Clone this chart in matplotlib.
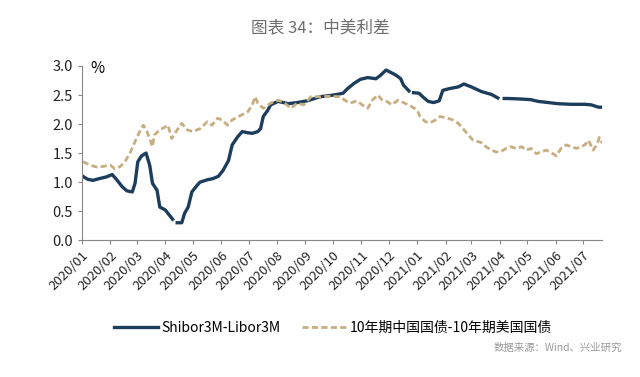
import numpy as np
import pandas as pd
import matplotlib
matplotlib.use("Agg")
import matplotlib.pyplot as plt

plt.rcParams['font.family'] = ['Noto Sans CJK SC', 'DejaVu Sans']

# Shibor3M - Libor3M (%), NaN marks gaps in the series
shibor_dates = ['2020-01-02', '2020-01-07', '2020-01-13', '2020-01-20', '2020-01-28',
                '2020-02-03', '2020-02-07', '2020-02-14', '2020-02-19', '2020-02-25',
                '2020-02-28', '2020-03-02', '2020-03-06', '2020-03-11', '2020-03-15',
                '2020-03-18', '2020-03-23', '2020-03-26', '2020-04-01', '2020-04-04',
                '2020-04-09', '2020-04-11', '2020-04-14', '2020-04-19', '2020-04-22',
                '2020-04-26', '2020-04-30', '2020-05-06', '2020-05-09', '2020-05-17',
                '2020-05-23', '2020-05-29', '2020-06-03', '2020-06-09', '2020-06-13',
                '2020-06-19', '2020-06-24', '2020-06-30', '2020-07-05', '2020-07-11',
                '2020-07-14', '2020-07-17', '2020-07-22', '2020-07-25', '2020-08-02',
                '2020-08-08', '2020-08-13', '2020-08-23', '2020-09-03', '2020-09-17',
                '2020-10-02', '2020-10-12', '2020-10-17', '2020-10-24', '2020-10-31',
                '2020-11-08', '2020-11-17', '2020-11-22', '2020-11-28', '2020-12-03',
                '2020-12-09', '2020-12-14', '2020-12-17', '2020-12-23', '2020-12-25',
                '2020-12-28', '2021-01-03', '2021-01-07', '2021-01-13', '2021-01-19',
                '2021-01-25', '2021-01-29', '2021-02-05', '2021-02-15', '2021-02-21',
                '2021-03-01', '2021-03-12', '2021-03-23', '2021-03-30', '2021-04-02',
                '2021-04-06', '2021-04-10', '2021-04-25', '2021-05-05', '2021-05-13',
                '2021-05-24', '2021-06-04', '2021-06-18', '2021-07-03', '2021-07-10',
                '2021-07-18', '2021-07-22']
shibor_vals = [1.10, 1.05, 1.03, 1.06, 1.09,
               1.13, 1.06, 0.92, 0.85, 0.83,
               0.98, 1.35, 1.45, 1.50, 1.29,
               0.98, 0.86, 0.57, 0.52, 0.46,
               0.36, np.nan, 0.30, 0.30, 0.46,
               0.57, 0.83, 0.95, 1.00, 1.04,
               1.06, 1.10, 1.20, 1.37, 1.64,
               1.78, 1.87, 1.85, 1.84, 1.87,
               1.92, 2.13, 2.24, 2.33, 2.39,
               2.37, 2.35, 2.37, 2.40, 2.47,
               2.50, 2.53, 2.61, 2.70, 2.77,
               2.80, 2.78, 2.84, 2.93, 2.89,
               2.84, 2.78, 2.67, 2.57, np.nan,
               2.54, 2.53, 2.47, 2.39, 2.37,
               2.40, 2.58, 2.61, 2.64, 2.69,
               2.64, 2.56, 2.51, 2.45, np.nan,
               2.44, 2.44, 2.43, 2.42, 2.39,
               2.37, 2.35, 2.34, 2.34, 2.33,
               2.29, 2.29]

# 10Y China govt bond - 10Y US Treasury (%)
bond_dates = ['2020-01-02', '2020-01-05', '2020-01-10', '2020-01-17', '2020-01-24',
              '2020-02-01', '2020-02-06', '2020-02-12', '2020-02-17', '2020-02-23',
              '2020-02-28', '2020-03-05', '2020-03-08', '2020-03-12', '2020-03-15',
              '2020-03-18', '2020-03-20', '2020-03-26', '2020-04-01', '2020-04-04',
              '2020-04-08', '2020-04-14', '2020-04-19', '2020-04-25', '2020-05-01',
              '2020-05-09', '2020-05-17', '2020-05-22', '2020-05-28', '2020-06-02',
              '2020-06-08', '2020-06-13', '2020-06-20', '2020-06-30', '2020-07-05',
              '2020-07-08', '2020-07-11', '2020-07-17', '2020-07-25', '2020-08-02',
              '2020-08-08', '2020-08-16', '2020-08-23', '2020-08-30', '2020-09-07',
              '2020-09-17', '2020-09-28', '2020-10-09', '2020-10-14', '2020-10-20',
              '2020-10-27', '2020-11-02', '2020-11-08', '2020-11-13', '2020-11-19',
              '2020-11-24', '2020-11-30', '2020-12-04', '2020-12-11', '2020-12-17',
              '2020-12-25', '2021-01-01', '2021-01-04', '2021-01-10', '2021-01-15',
              '2021-01-21', '2021-01-26', '2021-02-03', '2021-02-09', '2021-02-15',
              '2021-02-20', '2021-02-26', '2021-03-03', '2021-03-12', '2021-03-17',
              '2021-03-23', '2021-03-28', '2021-04-02', '2021-04-08', '2021-04-13',
              '2021-04-19', '2021-04-25', '2021-04-30', '2021-05-05', '2021-05-11',
              '2021-05-16', '2021-05-22', '2021-05-27', '2021-06-02', '2021-06-07',
              '2021-06-13', '2021-06-18', '2021-06-24', '2021-06-29', '2021-07-03',
              '2021-07-07', '2021-07-12', '2021-07-16', '2021-07-19', '2021-07-22']
bond_vals = [1.35, 1.33, 1.29, 1.26, 1.27,
             1.29, 1.23, 1.27, 1.35, 1.52,
             1.70, 1.90, 1.98, 1.87, 1.75,
             1.61, 1.81, 1.90, 1.95, 1.98,
             1.75, 1.90, 2.01, 1.90, 1.87,
             1.92, 2.04, 1.98, 2.10, 2.07,
             1.98, 2.07, 2.13, 2.21, 2.33,
             2.47, 2.36, 2.27, 2.36, 2.41,
             2.38, 2.27, 2.36, 2.33, 2.47,
             2.47, 2.48, 2.47, 2.41, 2.36,
             2.40, 2.33, 2.27, 2.41, 2.50,
             2.41, 2.38, 2.33, 2.41, 2.37,
             2.31, 2.24, 2.13, 2.04, 2.02,
             2.07, 2.13, 2.10, 2.07, 2.01,
             1.92, 1.81, 1.72, 1.68, 1.61,
             1.55, 1.52, 1.52, 1.58, 1.61,
             1.58, 1.61, 1.55, 1.58, 1.49,
             1.52, 1.55, 1.51, 1.45, 1.58,
             1.64, 1.61, 1.58, 1.61, 1.64,
             1.72, 1.55, 1.64, 1.77, 1.67]

tick_labels = ['2020/01', '2020/02', '2020/03', '2020/04', '2020/05', '2020/06',
               '2020/07', '2020/08', '2020/09', '2020/10', '2020/11', '2020/12',
               '2021/01', '2021/02', '2021/03', '2021/04', '2021/05', '2021/06',
               '2021/07']

fig = plt.figure(figsize=(6.4, 3.77), dpi=100)
ax = fig.add_axes([0.128, 0.363, 0.813, 0.462])

navy = '#1d3d5c'
tan = '#c8ad80'

ax.plot(pd.to_datetime(shibor_dates), shibor_vals, color=navy, lw=2.4,
        label='Shibor3M-Libor3M')
ax.plot(pd.to_datetime(bond_dates), bond_vals, color=tan, lw=2.0,
        dashes=(2.2, 1.2), label='10年期中国国债-10年期美国国债')

ax.set_ylim(0, 3.0)
ax.set_yticks(np.arange(0, 3.01, 0.5))
ax.set_yticklabels(['%.1f' % v for v in np.arange(0, 3.01, 0.5)], fontsize=10.5)

ticks = pd.date_range('2020-01-01', '2021-07-01', freq='MS')
ax.set_xlim(pd.Timestamp('2020-01-01'), pd.Timestamp('2021-07-22'))
ax.set_xticks(ticks)
ax.set_xticklabels(tick_labels, rotation=45, ha='right', rotation_mode='anchor',
                   fontsize=9.5)

for s in ['top', 'right']:
    ax.spines[s].set_visible(False)
for s in ['left', 'bottom']:
    ax.spines[s].set_color('#888888')
    ax.spines[s].set_linewidth(0.8)
ax.tick_params(axis='both', color='#888888', length=3, width=0.8, labelcolor='#222222')

ax.text(0.029, 0.988, '%', transform=ax.transAxes, fontsize=11, va='center', ha='center')

fig.text(0.5, 0.925, '图表 34：中美利差', ha='center', va='center', fontsize=12,
         color='#6e6e6e')
fig.legend(loc='center', bbox_to_anchor=(0.52, 0.13), ncol=2, frameon=False,
           fontsize=10, handlelength=3.2, handletextpad=0.2, columnspacing=1.6)
fig.text(0.972, 0.078, '数据来源：Wind、兴业研究', ha='right', va='center',
         fontsize=7.5, color='#999999')

fig.savefig('out.png', dpi=100)
